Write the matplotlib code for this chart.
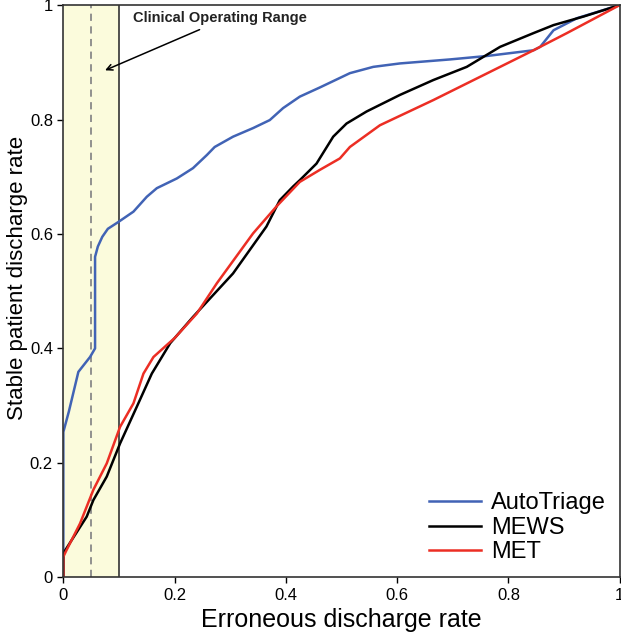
import matplotlib
matplotlib.use("Agg")
import matplotlib.pyplot as plt

plt.rcParams['font.family'] = ['Liberation Sans', 'DejaVu Sans']

# AutoTriage curve
auto_x = [0.0, 0.0, 0.010, 0.027, 0.048, 0.057, 0.057, 0.062, 0.070, 0.080, 0.099, 0.126, 0.150,
          0.168, 0.204, 0.233, 0.258, 0.272, 0.305, 0.341, 0.371, 0.395, 0.425,
          0.461, 0.515, 0.557, 0.605, 0.695, 0.761, 0.845, 0.857, 0.881, 0.923, 1.0]
auto_y = [0.0, 0.254, 0.290, 0.359, 0.385, 0.40, 0.56, 0.578, 0.595, 0.609, 0.621, 0.639, 0.665,
          0.680, 0.697, 0.715, 0.738, 0.752, 0.770, 0.785, 0.799, 0.820, 0.840,
          0.856, 0.881, 0.892, 0.898, 0.905, 0.911, 0.921, 0.927, 0.956, 0.977, 1.0]

# MEWS curve
mews_x = [0.0, 0.0, 0.015, 0.042, 0.054, 0.078, 0.102, 0.132, 0.159, 0.192, 0.233,
          0.305, 0.365, 0.389, 0.413, 0.425, 0.455, 0.485, 0.509, 0.545, 0.605,
          0.665, 0.725, 0.785, 0.845, 0.881, 0.935, 1.0]
mews_y = [0.0, 0.042, 0.065, 0.106, 0.135, 0.176, 0.234, 0.298, 0.356, 0.409, 0.455,
          0.531, 0.613, 0.659, 0.683, 0.694, 0.723, 0.770, 0.793, 0.814, 0.843,
          0.869, 0.892, 0.927, 0.951, 0.965, 0.980, 1.0]

# MET curve
met_x = [0.0, 0.0, 0.006, 0.030, 0.054, 0.078, 0.102, 0.126, 0.144, 0.162, 0.186,
         0.200, 0.240, 0.276, 0.341, 0.383, 0.425, 0.461, 0.497, 0.515, 0.569,
         0.665, 0.785, 0.845, 0.905, 1.0]
met_y = [0.0, 0.036, 0.048, 0.094, 0.153, 0.199, 0.263, 0.304, 0.356, 0.385, 0.406,
         0.418, 0.461, 0.514, 0.601, 0.648, 0.691, 0.712, 0.732, 0.752, 0.790,
         0.834, 0.892, 0.921, 0.951, 1.0]

ticks = [0, 0.2, 0.4, 0.6, 0.8, 1]
tick_labels = ["0", "0.2", "0.4", "0.6", "0.8", "1"]

fig = plt.figure(figsize=(6.21, 6.33), dpi=100)
ax = fig.add_axes([0.102, 0.088, 0.896, 0.904])

# Clinical operating range shading
ax.axvspan(0, 0.1, facecolor='#fbfbdc', edgecolor='none', zorder=0)
ax.axvline(0.1, color='#333333', lw=1.2, zorder=1)
ax.axvline(0.05, color='#888888', lw=1.3, ls=(0, (4, 3)), zorder=1)

ax.plot(auto_x, auto_y, color='#4163b5', lw=1.8, label='AutoTriage')
ax.plot(mews_x, mews_y, color='black', lw=1.8, label='MEWS')
ax.plot(met_x, met_y, color='#ec2e24', lw=1.8, label='MET')

ax.annotate('Clinical Operating Range', xy=(0.075, 0.886), xytext=(0.125, 0.978),
            fontsize=10.5, fontweight='bold', color='#222222', va='center',
            arrowprops=dict(arrowstyle='->', color='black', lw=1.1,
                            relpos=(0.45, 0.0), shrinkA=4, shrinkB=0))

ax.set_xlim(0, 1)
ax.set_ylim(0, 1)
ax.set_xticks(ticks)
ax.set_xticklabels(tick_labels)
ax.set_yticks(ticks)
ax.set_yticklabels(tick_labels)
ax.tick_params(labelsize=12, length=4, width=1, direction='out')
for s in ax.spines.values():
    s.set_linewidth(1.2)
    s.set_color('#333333')

ax.set_xlabel('Erroneous discharge rate', fontsize=18, labelpad=4)
ax.set_ylabel('Stable patient discharge rate', fontsize=16)
ax.yaxis.set_label_coords(-0.064, 0.523)

ax.legend(loc='lower right', frameon=False, fontsize=17, handlelength=2.2,
          handletextpad=0.4, labelspacing=0.1, borderaxespad=0.2)

plt.savefig('out.png', dpi=100)
